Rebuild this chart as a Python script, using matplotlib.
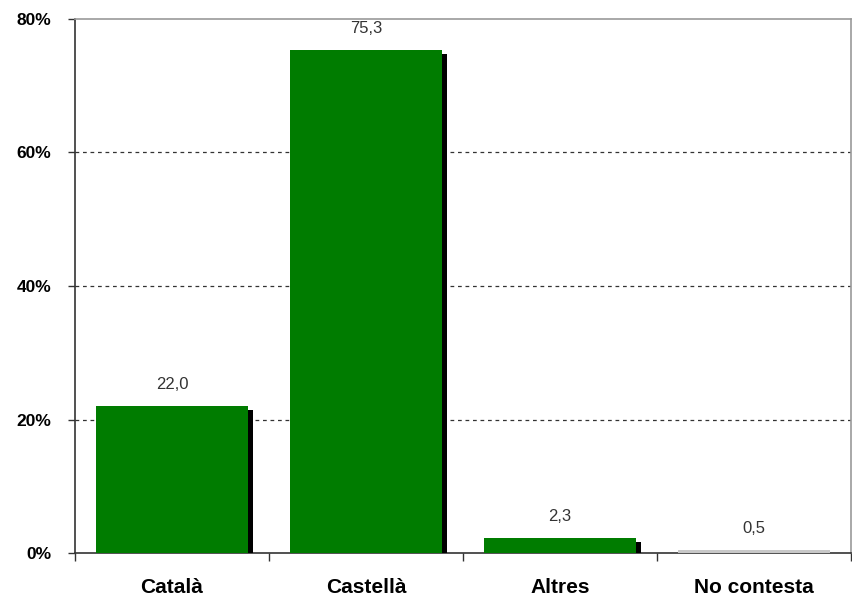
import matplotlib
matplotlib.use("Agg")
import matplotlib.pyplot as plt
import matplotlib.patheffects as pe

categories = ["Català", "Castellà", "Altres", "No contesta"]
values = [22.0, 75.3, 2.3, 0.5]
value_labels = ["22,0", "75,3", "2,3", "0,5"]
bar_colors = ["#007C00", "#007C00", "#007C00", "#C8C8C8"]
has_shadow = [True, True, True, False]
yticks = [0, 20, 40, 60, 80]
ytick_labels = ["0%", "20%", "40%", "60%", "80%"]

plt.rcParams['font.family'] = ['Liberation Sans', 'DejaVu Sans']

fig = plt.figure(figsize=(8.52, 6.0), dpi=100)
ax = fig.add_axes([75/852, 47/600, (851-75)/852, (553-19)/600])

x = list(range(len(categories)))
bars = ax.bar(x, values, width=0.78, color=bar_colors, zorder=3)
for b, sh in zip(bars, has_shadow):
    if sh:
        b.set_path_effects([pe.SimplePatchShadow(offset=(3.6, -2.9), shadow_rgbFace='black', alpha=1.0),
                            pe.Normal()])

for xi, v, lab in zip(x, values, value_labels):
    ax.annotate(lab, (xi, v), xytext=(0, 10), textcoords='offset points',
                ha='center', va='bottom', fontsize=12, color='#333333')

ax.set_xlim(-0.5, len(categories) - 0.5)
ax.set_ylim(0, 80)
ax.set_yticks(yticks)
ax.set_yticklabels(ytick_labels, fontsize=12.5, fontweight='bold')
ax.set_xticks(x)
ax.set_xticklabels(categories, fontsize=15, fontweight='bold')
ax.tick_params(axis='x', length=0, pad=18)
ax.tick_params(axis='y', length=5, width=1, color='#333333', pad=12)

# category boundary ticks
ax.set_xticks([i - 0.5 for i in range(len(categories) + 1)], minor=True)
ax.tick_params(axis='x', which='minor', length=6, width=1, color='#333333')

for yv in yticks[1:-1]:
    ax.axhline(yv, color='#333333', linestyle=(0, (3, 3)), linewidth=0.9, zorder=1)

ax.spines['left'].set_color('#333333')
ax.spines['bottom'].set_color('#333333')
ax.spines['top'].set_color('#999999')
ax.spines['right'].set_color('#999999')
for s in ax.spines.values():
    s.set_linewidth(1.2)

fig.savefig("out.png", dpi=100)
